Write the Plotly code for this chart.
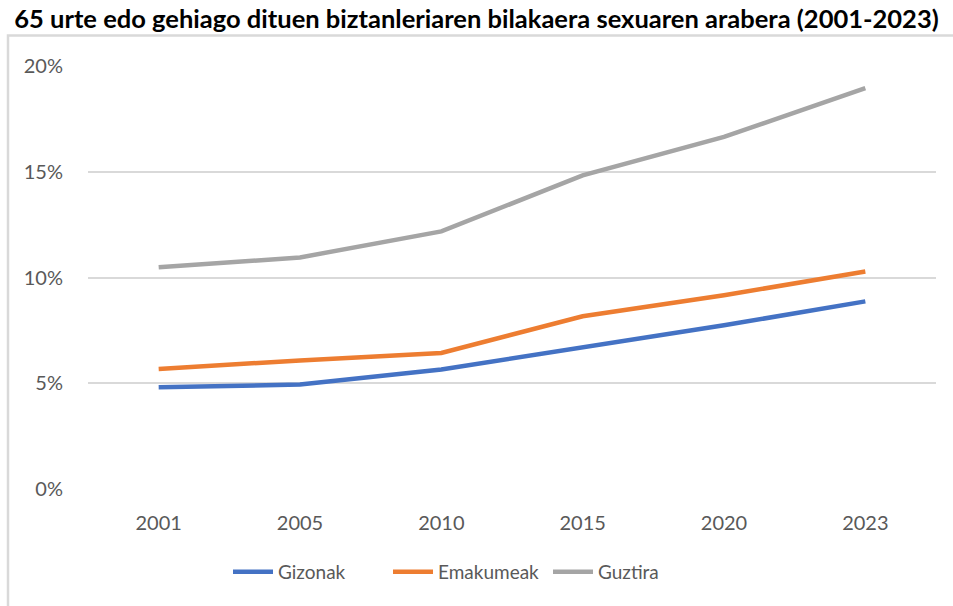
import plotly.graph_objects as go

years = ["2001", "2005", "2010", "2015", "2020", "2023"]
gizonak = [4.81, 4.94, 5.65, 6.70, 7.74, 8.87]
emakumeak = [5.67, 6.08, 6.43, 8.17, 9.16, 10.28]
guztira = [10.48, 10.95, 12.18, 14.83, 16.65, 18.95]
y_ticks = [0, 5, 10, 15, 20]
y_tick_labels = ["0%", "5%", "10%", "15%", "20%"]

series = [
    ("Gizonak", gizonak, "#4472C4"),
    ("Emakumeak", emakumeak, "#ED7D31"),
    ("Guztira", guztira, "#A5A5A5"),
]

W, H = 953, 606
L, R, T, B = 88, 17, 66, 117

fig = go.Figure()
for name, vals, col in series:
    fig.add_trace(go.Scatter(x=years, y=vals, name=name, mode="lines",
                             line=dict(color=col, width=4.5)))

pw = W - L - R
ph = H - T - B
def px_x(p):  # page pixel -> paper
    return (p - L) / pw
def px_y(p):
    return (H - B - p) / ph

fig.add_shape(type="path",
              path=f"M {px_x(8)} {px_y(700)} L {px_x(8)} {px_y(35.5)} L {px_x(1000)} {px_y(35.5)}",
              xref="paper", yref="paper", line=dict(color="#D9D9D9", width=2.5))

font = "Lato, Carlito, sans-serif"
fig.update_layout(
    width=W, height=H,
    margin=dict(l=L, r=R, t=T, b=B),
    paper_bgcolor="white", plot_bgcolor="white",
    title=dict(text="<b>65 urte edo gehiago dituen biztanleriaren bilakaera sexuaren arabera (2001-2023)</b>",
               x=476.5 / W, xref="container", xanchor="center", y=1 - 19 / H, yanchor="middle",
               font=dict(family=font, size=25.5, color="#000000")),
    font=dict(family=font, color="#595959", size=19),
    xaxis=dict(type="category", range=[-0.5, 5.5], showgrid=False, showline=False, zeroline=False,
               ticks="", ticklabelstandoff=20, tickfont=dict(size=20, color="#595959")),
    yaxis=dict(range=[0, 20], tickvals=y_ticks, ticktext=y_tick_labels,
               showgrid=True, gridcolor="#D9D9D9", gridwidth=1.5, zeroline=False,
               showline=False, ticks="", ticklabelstandoff=24,
               tickfont=dict(size=20, color="#595959")),
    legend=dict(orientation="h", x=px_x(468), xanchor="center", y=px_y(572), yanchor="middle",
                font=dict(size=19, color="#595959"), itemwidth=40, tracegroupgap=0,
                entrywidth=105),
    showlegend=True,
)

fig.write_html("out.html", config={"displayModeBar": False},
               post_script="document.body.style.margin='0';document.body.style.padding='0';")
